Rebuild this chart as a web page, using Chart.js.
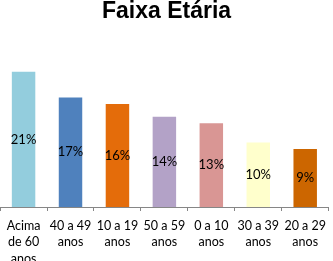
<!DOCTYPE html>
<html lang="pt">
<head>
<meta charset="UTF-8">
<title>Faixa Etária</title>
<script src="https://cdn.jsdelivr.net/npm/chart.js@4"></script>
<style>
    body { margin: 0; background: #fff; }
    #chart { display: block; }
</style>
</head>
<body>
<canvas id="chart" width="333" height="261"></canvas>

<script>
    // values
    var faixas = [
        ['Acima', 'de 60', 'anos'],
        ['40 a 49', 'anos'],
        ['10 a 19', 'anos'],
        ['50 a 59', 'anos'],
        ['0 a 10', 'anos'],
        ['30 a 39', 'anos'],
        ['20 a 29', 'anos']
    ];
    var percentuais = [21, 17, 16, 14, 13, 10, 9];
    var cores = ['#93CDDD', '#4F81BD', '#E46C0A', '#B3A2C7', '#D99694', '#FFFFCC', '#CC6600'];

    // percent label in the middle of each bar
    var rotulos = {
        id: 'rotulos',
        afterDatasetsDraw: function(chart) {
            var ctx = chart.ctx;
            var meta = chart.getDatasetMeta(0);
            ctx.save();
            ctx.font = '13px Lato';
            ctx.fillStyle = '#000';
            ctx.textAlign = 'center';
            ctx.textBaseline = 'middle';
            meta.data.forEach(function(bar, i) {
                ctx.fillText(percentuais[i] + '%', bar.x, (bar.y + bar.base) / 2);
            });
            ctx.restore();
        }
    };

    new Chart(document.getElementById('chart'), {
        type: 'bar',
        data: {
            labels: faixas,
            datasets: [{
                data: percentuais,
                backgroundColor: cores,
                borderWidth: 0,
                barPercentage: 0.5,
                categoryPercentage: 1
            }]
        },
        options: {
            responsive: false,
            animation: false,
            layout: { padding: 0 },
            plugins: {
                legend: { display: false },
                tooltip: { enabled: false },
                title: {
                    display: true,
                    text: 'Faixa Etária',
                    color: '#000',
                    font: { family: 'Liberation Sans', size: 23, weight: 'bold', lineHeight: 1 },
                    padding: { top: 0, bottom: 23 }
                }
            },
            scales: {
                x: {
                    afterFit: function(scale) { scale.height = 54; },
                    grid: {
                        display: true,
                        drawOnChartArea: false,
                        tickLength: 4,
                        color: '#868686',
                        offset: true
                    },
                    border: { display: true, color: '#868686' },
                    ticks: {
                        color: '#000',
                        padding: 7,
                        maxRotation: 0,
                        autoSkip: false,
                        font: { family: 'Lato', size: 12.5, lineHeight: 1.3 }
                    }
                },
                y: {
                    display: false,
                    min: 0,
                    max: 25
                }
            }
        },
        plugins: [rotulos]
    });
</script>
</body>
</html>
